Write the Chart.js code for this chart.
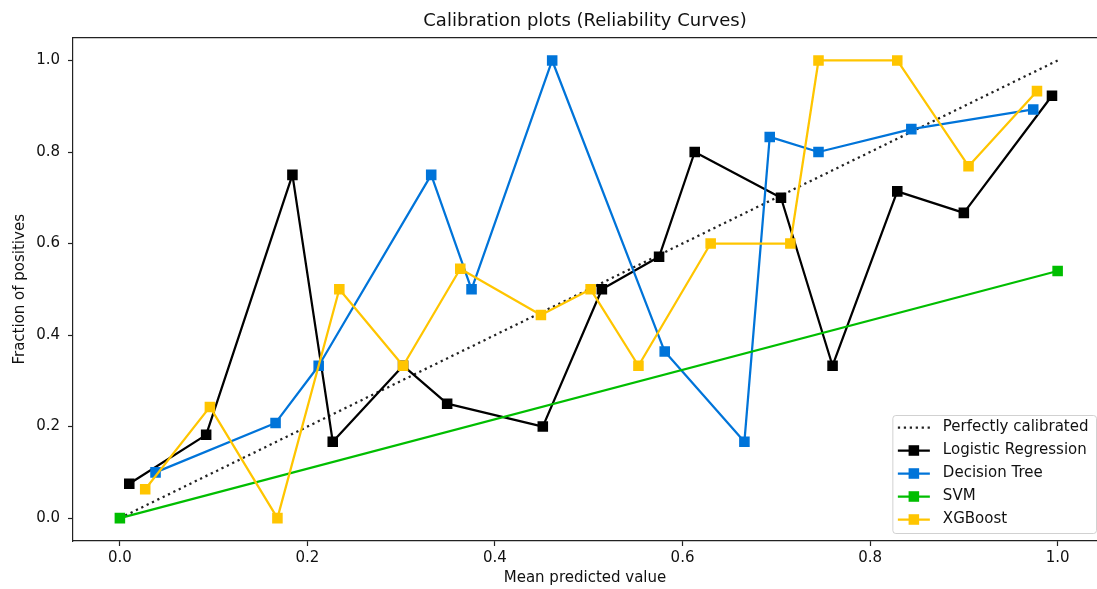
<!DOCTYPE html>
<html>
<head>
<meta charset="utf-8">
<script src="https://cdn.jsdelivr.net/npm/chart.js@4.4.1/dist/chart.umd.min.js"></script>
<style>
  html, body { margin: 0; padding: 0; overflow: hidden; background: #fff; }
  #wrap { position: absolute; left: 0; top: 0; width: 1097px; height: 589px; }
</style>
</head>
<body>
<div id="wrap"><canvas id="calibChart"></canvas></div>
<script>
// tick labels
const xTicks = [0.0, 0.2, 0.4, 0.6, 0.8, 1.0];
const yTicks = [0.0, 0.2, 0.4, 0.6, 0.8, 1.0];

// perfectly calibrated diagonal
const calibX = [0, 1];
const calibY = [0, 1];

// Logistic Regression
const lrX = [0.010, 0.092, 0.184, 0.227, 0.302, 0.349, 0.451, 0.514, 0.575, 0.613, 0.705, 0.760, 0.829, 0.900, 0.994];
const lrY = [0.075, 0.182, 0.750, 0.167, 0.333, 0.250, 0.200, 0.500, 0.571, 0.800, 0.700, 0.333, 0.714, 0.667, 0.923];

// Decision Tree
const dtX = [0.038, 0.166, 0.212, 0.332, 0.375, 0.461, 0.581, 0.666, 0.693, 0.745, 0.844, 0.974];
const dtY = [0.100, 0.208, 0.333, 0.750, 0.500, 1.000, 0.364, 0.167, 0.833, 0.800, 0.850, 0.893];

// SVM
const svmX = [0.0, 1.0];
const svmY = [0.0, 0.540];

// XGBoost
const xgbX = [0.027, 0.096, 0.168, 0.234, 0.302, 0.363, 0.449, 0.502, 0.553, 0.630, 0.715, 0.745, 0.829, 0.905, 0.978];
const xgbY = [0.063, 0.243, 0.000, 0.500, 0.333, 0.545, 0.444, 0.500, 0.333, 0.600, 0.600, 1.000, 1.000, 0.769, 0.933];

function points(xs, ys) {
    return xs.map((x, i) => ({ x: x, y: ys[i] }));
}

function series(label, xs, ys, color, order) {
    return {
        label: label,
        data: points(xs, ys),
        showLine: true,
        borderColor: color,
        backgroundColor: color,
        borderWidth: 2.25,
        borderJoinStyle: "round",
        pointStyle: "rect",
        pointRadius: 6.4,
        pointHoverRadius: 6.4,
        pointBackgroundColor: color,
        pointBorderColor: color,
        pointBorderWidth: 1.5,
        order: order
    };
}

Chart.defaults.font.family = "'DejaVu Sans', sans-serif";
Chart.defaults.color = "#111";

// matplotlib style top spine + legend box
const mplLegend = {
    id: "mplLegend",
    afterDraw(chart) {
        const ctx = chart.ctx;
        const area = chart.chartArea;
        const sets = chart.data.datasets;
        ctx.save();

        // top spine (right spine is cut off in the original)
        ctx.strokeStyle = "#222";
        ctx.lineWidth = 1.2;
        ctx.beginPath();
        ctx.moveTo(area.left, area.top);
        ctx.lineTo(area.right, area.top);
        ctx.stroke();

        ctx.font = "15px 'DejaVu Sans', sans-serif";
        let textW = 0;
        sets.forEach(d => { textW = Math.max(textW, ctx.measureText(d.label).width); });
        const rowH = 23;
        const w = 5 + 32 + 13 + textW + 8;
        const h = 12 + (sets.length - 1) * rowH + 14;
        const right = area.right - 0.5;
        const bottom = area.bottom - 7.5;
        const left = right - w;
        const top = bottom - h;

        ctx.beginPath();
        if (ctx.roundRect) ctx.roundRect(left, top, w, h, 3);
        else ctx.rect(left, top, w, h);
        ctx.fillStyle = "rgba(255,255,255,0.8)";
        ctx.fill();
        ctx.strokeStyle = "rgba(204,204,204,0.9)";
        ctx.lineWidth = 1;
        ctx.stroke();

        sets.forEach((d, i) => {
            const cy = top + 12 + i * rowH;
            const x0 = left + 5;
            const x1 = x0 + 32;
            ctx.beginPath();
            ctx.setLineDash(d.borderDash || []);
            ctx.strokeStyle = d.borderColor;
            ctx.lineWidth = d.borderWidth;
            ctx.moveTo(x0, cy);
            ctx.lineTo(x1, cy);
            ctx.stroke();
            ctx.setLineDash([]);
            if (d.pointRadius > 0) {
                const s = d.pointRadius * Math.SQRT2 + d.pointBorderWidth;
                ctx.fillStyle = d.pointBackgroundColor;
                ctx.fillRect((x0 + x1) / 2 - s / 2, cy - s / 2, s, s);
            }
            ctx.fillStyle = "#111";
            ctx.textAlign = "left";
            ctx.textBaseline = "middle";
            ctx.fillText(d.label, x1 + 13, cy);
        });
        ctx.restore();
    }
};

new Chart(document.getElementById("calibChart"), {
    type: "scatter",
    data: {
        datasets: [
            {
                label: "Perfectly calibrated",
                data: points(calibX, calibY),
                showLine: true,
                borderColor: "#222",
                borderWidth: 2.25,
                borderDash: [2.25, 3.7],
                pointRadius: 0,
                pointHoverRadius: 0,
                order: 4
            },
            series("Logistic Regression", lrX, lrY, "#000000", 3),
            series("Decision Tree", dtX, dtY, "#0074D9", 2),
            series("SVM", svmX, svmY, "#00BE00", 1),
            series("XGBoost", xgbX, xgbY, "#FFC500", 0)
        ]
    },
    options: {
        responsive: true,
        maintainAspectRatio: false,
        devicePixelRatio: 1,
        animation: false,
        layout: { autoPadding: false, padding: 0 },
        plugins: {
            legend: { display: false },
            tooltip: { enabled: false },
            title: {
                display: true,
                fullSize: false,
                text: "Calibration plots (Reliability Curves)",
                color: "#111",
                font: { size: 18, weight: "normal" },
                padding: { top: 11, bottom: 5 }
            }
        },
        scales: {
            x: {
                type: "linear",
                min: -0.05,
                max: 1.042,
                afterBuildTicks(scale) { scale.ticks = xTicks.map(v => ({ value: v })); },
                afterFit(scale) { scale.height = 48; },
                ticks: {
                    font: { size: 15 },
                    color: "#111",
                    padding: 3,
                    maxRotation: 0,
                    callback: v => v.toFixed(1)
                },
                grid: { display: true, drawOnChartArea: false, drawTicks: true, tickLength: 5, tickWidth: 1.2, tickColor: "#222" },
                border: { display: true, color: "#222", width: 1.2 },
                title: {
                    display: true,
                    text: "Mean predicted value",
                    font: { size: 15 },
                    color: "#111",
                    padding: { top: 0, bottom: 2 }
                }
            },
            y: {
                type: "linear",
                min: -0.05,
                max: 1.05,
                afterBuildTicks(scale) { scale.ticks = yTicks.map(v => ({ value: v })); },
                afterFit(scale) { scale.width = 73; },
                ticks: {
                    font: { size: 15 },
                    color: "#111",
                    padding: 8,
                    callback: v => v.toFixed(1)
                },
                grid: { display: true, drawOnChartArea: false, drawTicks: true, tickLength: 5, tickWidth: 1.2, tickColor: "#222" },
                border: { display: true, color: "#222", width: 1.2 },
                title: {
                    display: true,
                    text: "Fraction of positives",
                    font: { size: 15 },
                    color: "#111",
                    padding: { top: 11, bottom: 0 }
                }
            }
        }
    },
    plugins: [mplLegend]
});
</script>
</body>
</html>
